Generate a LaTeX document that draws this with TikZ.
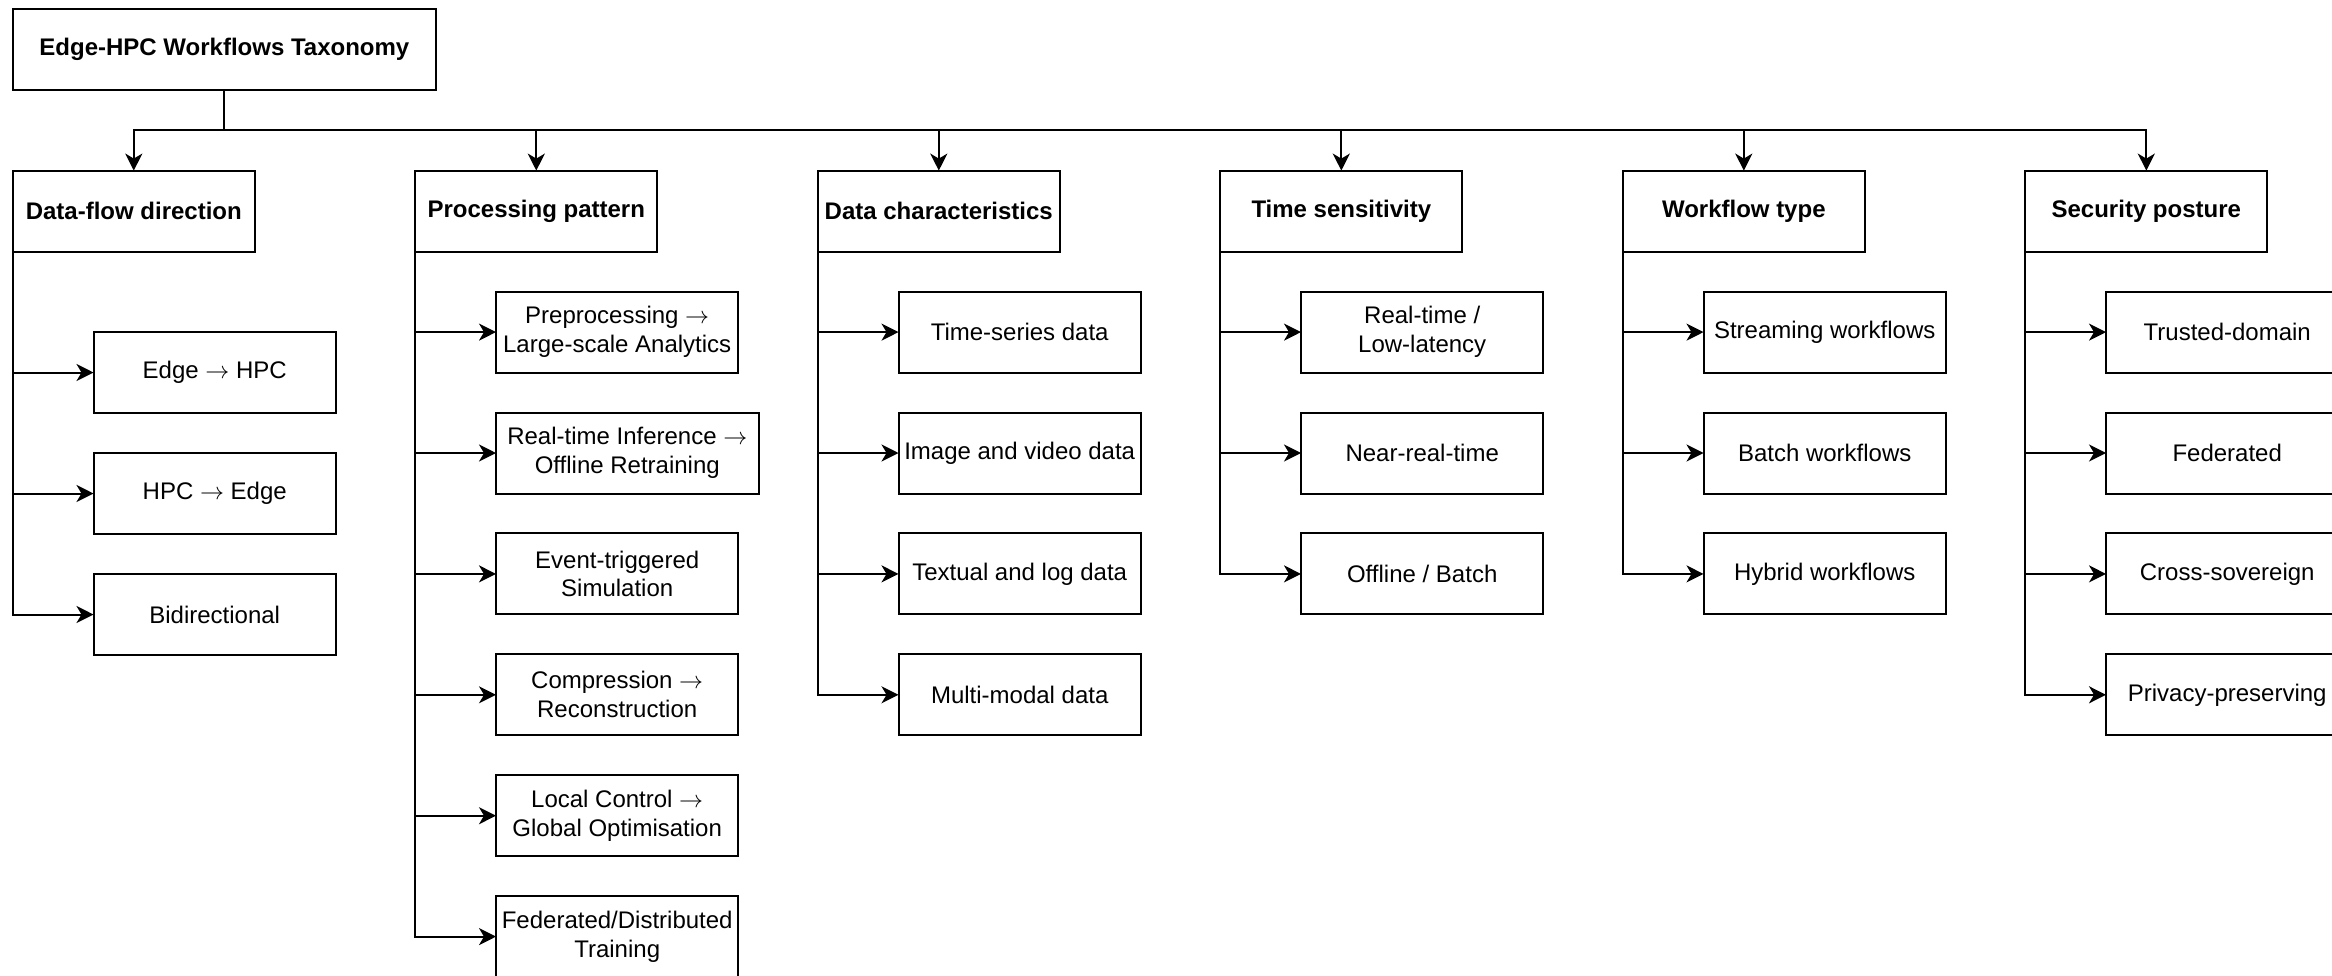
\documentclass[tikz,border=0pt]{standalone}
\usepackage{fontspec}
\setmainfont{Liberation Sans}
\usetikzlibrary{arrows.meta}
\newcommand{\rarr}{\ensuremath{\rightarrow}}
\begin{document}
\begin{tikzpicture}[x=1pt,y=-1pt,
  box/.style={draw=black, line width=1pt, rectangle, anchor=north west, inner sep=0pt, outer sep=0pt,
    minimum height=40.5pt, align=center, text=black, font=\fontsize{12}{14.4}\selectfont},
  hdr/.style={box, minimum width=121pt, font=\fontsize{12}{14.4}\selectfont\bfseries},
  leaf/.style={box, minimum width=121.2pt},
  conn/.style={draw=black, line width=1pt, -{Stealth[length=8.5pt,width=8.5pt,inset=2.5pt]}}]
\useasboundingbox (0,0) rectangle (1166,487.5);
\fill[white] (0,0) rectangle (1166,487.5);

% root
\node[box, minimum width=211.6pt, font=\fontsize{12}{14.4}\selectfont\bfseries] (root) at (6.4,4.5) {Edge-HPC Workflows Taxonomy};
\coordinate (bus) at (112.2,65);

% headers
\node[hdr] (h1) at (6.4,85.3)    {Data-flow direction};
\node[hdr] (h2) at (207.65,85.3) {Processing pattern};
\node[hdr] (h3) at (408.9,85.3)  {Data characteristics};
\node[hdr] (h4) at (610.15,85.3) {Time sensitivity};
\node[hdr] (h5) at (811.4,85.3)  {Workflow type};
\node[hdr] (h6) at (1012.65,85.3){Security posture};

\draw[line width=1pt] (root.south) -- (bus);
\foreach \h in {h1,h2,h3,h4,h5,h6}{
  \draw[conn] (bus) -| (\h.north);
}

% column 1
\node[leaf] (a1) at (46.75,166.0) {Edge \rarr{} HPC};
\node[leaf] (a2) at (46.75,226.5) {HPC \rarr{} Edge};
\node[leaf] (a3) at (46.75,287.0) {Bidirectional};

% column 2
\node[leaf] (b1) at (248,145.8) {Preprocessing \rarr\\Large-scale Analytics};
\node[leaf, minimum width=131.3pt] (b2) at (248,206.25) {Real-time Inference \rarr\\Offline Retraining};
\node[leaf] (b3) at (248,266.7) {Event-triggered\\Simulation};
\node[leaf] (b4) at (248,327.15) {Compression \rarr\\Reconstruction};
\node[leaf] (b5) at (248,387.6) {Local Control \rarr\\Global Optimisation};
\node[leaf] (b6) at (248,448.05) {Federated/Distributed\\Training};

% column 3
\node[leaf] (c1) at (449.25,145.8) {Time-series data};
\node[leaf] (c2) at (449.25,206.25) {Image and video data};
\node[leaf] (c3) at (449.25,266.7) {Textual and log data};
\node[leaf] (c4) at (449.25,327.15) {Multi-modal data};

% column 4
\node[leaf] (d1) at (650.5,145.8) {Real-time /\\Low-latency};
\node[leaf] (d2) at (650.5,206.25) {Near-real-time};
\node[leaf] (d3) at (650.5,266.7) {Offline / Batch};

% column 5
\node[leaf] (e1) at (851.75,145.8) {Streaming workflows};
\node[leaf] (e2) at (851.75,206.25) {Batch workflows};
\node[leaf] (e3) at (851.75,266.7) {Hybrid workflows};

% column 6
\node[leaf] (f1) at (1053,145.8) {Trusted-domain};
\node[leaf] (f2) at (1053,206.25) {Federated};
\node[leaf] (f3) at (1053,266.7) {Cross-sovereign};
\node[leaf] (f4) at (1053,327.15) {Privacy-preserving};

% connectors
\foreach \c in {a1,a2,a3}{\draw[conn] (h1.south west) |- (\c.west);}
\foreach \c in {b1,b2,b3,b4,b5,b6}{\draw[conn] (h2.south west) |- (\c.west);}
\foreach \c in {c1,c2,c3,c4}{\draw[conn] (h3.south west) |- (\c.west);}
\foreach \c in {d1,d2,d3}{\draw[conn] (h4.south west) |- (\c.west);}
\foreach \c in {e1,e2,e3}{\draw[conn] (h5.south west) |- (\c.west);}
\foreach \c in {f1,f2,f3,f4}{\draw[conn] (h6.south west) |- (\c.west);}
\end{tikzpicture}
\end{document}
